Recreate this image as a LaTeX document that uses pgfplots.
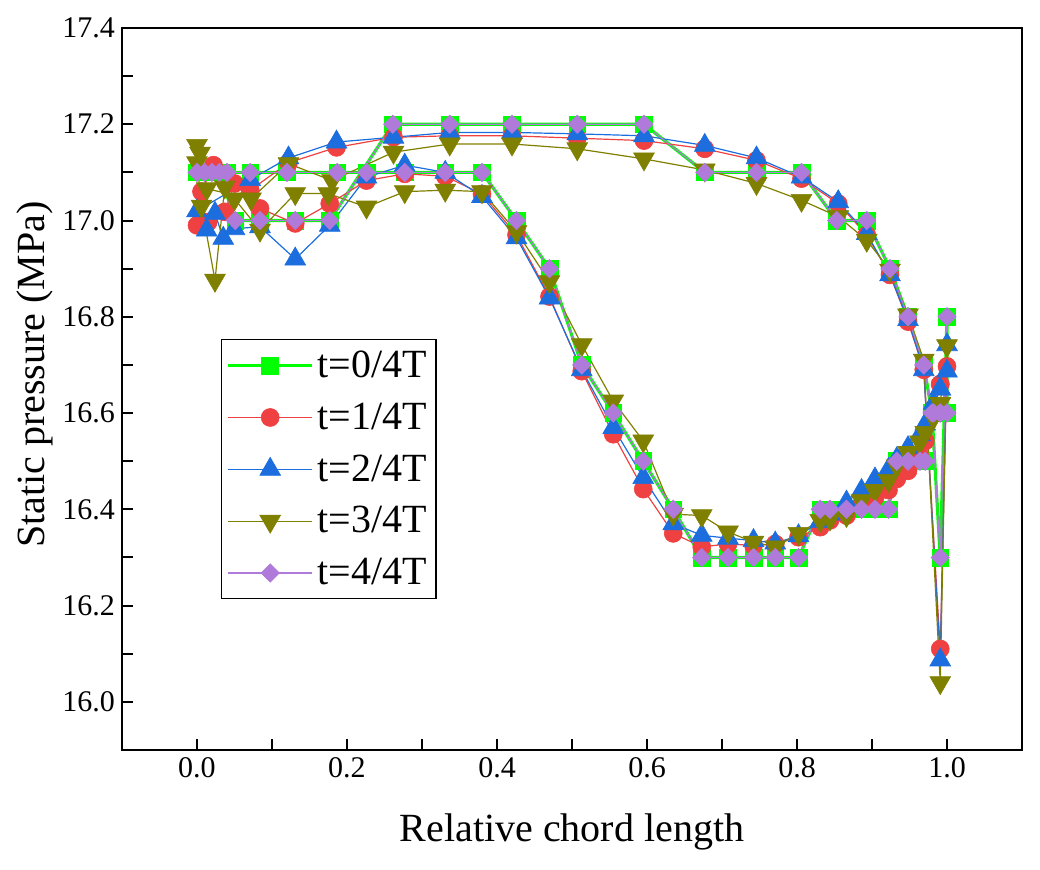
\documentclass[border=0pt]{standalone}
\usepackage{pgfplots}
\pgfplotsset{compat=1.18}
\usepackage{fontspec}
\setmainfont{Liberation Serif}
\definecolor{cgreen}{RGB}{0,255,0}
\definecolor{cred}{RGB}{239,65,65}
\definecolor{cblue}{RGB}{28,110,222}
\definecolor{colive}{RGB}{128,128,0}
\definecolor{cpurple}{RGB}{175,122,218}
\begin{document}
\begin{tikzpicture}
\path[use as bounding box] (-61pt,-60pt) rectangle (459pt,375pt);
\begin{axis}[
  scale only axis, width=450pt, height=361pt,
  xmin=-0.1, xmax=1.1, ymin=15.9, ymax=17.4,
  axis line style={line width=1.3pt},
  tick align=inside, tick pos=left,
  major tick length=5.5pt, minor tick length=5.5pt,
  tick style={line width=1pt, black},
  xtick={0,0.2,0.4,0.6,0.8,1.0},
  minor xtick={0.1,0.3,0.5,0.7,0.9},
  ytick={16.0,16.2,16.4,16.6,16.8,17.0,17.2,17.4},
  minor ytick={16.1,16.3,16.5,16.7,16.9,17.1,17.3},
  /pgf/number format/assume math mode=true,
  xticklabel style={font=\fontsize{15}{18}\selectfont, /pgf/number format/.cd, fixed, fixed zerofill, precision=1},
  yticklabel style={font=\fontsize{15}{18}\selectfont, /pgf/number format/.cd, fixed, fixed zerofill, precision=1},
  xlabel={Relative chord length},
  ylabel={Static pressure (MPa)},
  xlabel style={font=\fontsize{20}{24}\selectfont, at={(axis description cs:0.5,-0.1136)}, anchor=center},
  ylabel style={font=\fontsize{20}{24}\selectfont, at={(axis description cs:-0.097,0.52)}, anchor=center},
  legend style={at={(0.11,0.569)}, anchor=north west, draw=black, line width=0.6pt,
    font=\fontsize{20}{24}\selectfont, inner xsep=2.5pt, inner ysep=4.5pt, row sep=9.2pt,
    nodes={inner sep=1pt, inner xsep=2pt}},
  legend cell align=left,
  legend image code/.code={\draw[mark repeat=2,mark phase=2] plot coordinates {(0pt,0pt) (21pt,0pt) (42pt,0pt)};},
]
% t=0/4T
\addplot[cgreen, line width=1.6pt, mark=square*, mark size=4.2pt, mark options={solid, fill=cgreen, draw=cgreen, line width=0.3pt}] coordinates {
(0.991,16.6) (0.982,16.6) (0.971,16.5) (0.964,16.5) (0.948,16.5) (0.933,16.5) (0.922,16.4) (0.904,16.4) (0.886,16.4) (0.866,16.4) (0.844,16.4) (0.831,16.4) (0.802,16.3) (0.771,16.3) (0.742,16.3) (0.708,16.3) (0.673,16.3) (0.635,16.4) (0.595,16.5) (0.555,16.6) (0.513,16.7) (0.470,16.9) (0.426,17.0) (0.380,17.1) (0.331,17.1) (0.277,17.1) (0.226,17.1) (0.187,17.1) (0.120,17.1) (0.071,17.1)
(0.040,17.1) (0.0,17.1) (0.010,17.1) (0.020,17.1) (0.030,17.1)
(0.051,17.0) (0.084,17.0) (0.131,17.0) (0.177,17.0) (0.261,17.2) (0.337,17.2) (0.420,17.2) (0.507,17.2) (0.596,17.2) (0.677,17.1) (0.746,17.1) (0.806,17.1) (0.853,17.0) (0.893,17.0) (0.924,16.9) (0.948,16.8) (0.969,16.7) (0.980,16.6) (0.991,16.3) (1.0,16.8) (1.0,16.6) (0.991,16.6)
};
\addlegendentry{t=0/4T}
% t=1/4T
\addplot[color=cred, line width=0.6pt, mark=*, mark size=4.5pt, mark options={solid, fill=cred, draw=cred, line width=0.3pt}] coordinates {
(0.991,16.66) (0.982,16.60) (0.971,16.542) (0.964,16.51) (0.948,16.48) (0.933,16.463) (0.922,16.44) (0.904,16.425) (0.886,16.41) (0.866,16.387) (0.844,16.377) (0.831,16.363) (0.802,16.342) (0.771,16.328) (0.742,16.325) (0.708,16.328) (0.673,16.322) (0.635,16.35) (0.595,16.442) (0.555,16.556) (0.513,16.687) (0.470,16.842) (0.426,16.97) (0.380,17.055) (0.331,17.092) (0.277,17.097) (0.226,17.083) (0.177,17.035) (0.131,16.994) (0.084,17.025) (0.050,17.077)
(0.037,17.018) (0.015,16.997) (0.0,16.99) (0.006,17.06) (0.022,17.115)
(0.071,17.063) (0.122,17.12) (0.186,17.152) (0.262,17.173) (0.337,17.176) (0.420,17.176) (0.507,17.171) (0.596,17.166) (0.677,17.149) (0.746,17.125) (0.806,17.087) (0.855,17.035) (0.893,16.97) (0.924,16.887) (0.948,16.79) (0.969,16.69) (0.991,16.11) (1.0,16.697) (0.991,16.66)
};
\addlegendentry{t=1/4T}
% t=2/4T
\addplot[color=cblue, line width=0.6pt, mark=triangle*, mark size=6pt, mark options={solid, fill=cblue, draw=cblue, line width=0.3pt}] coordinates {
(0.991,16.65) (0.982,16.62) (0.971,16.577) (0.964,16.555) (0.948,16.528) (0.933,16.505) (0.922,16.483) (0.904,16.463) (0.886,16.439) (0.866,16.415) (0.844,16.39) (0.831,16.375) (0.802,16.345) (0.771,16.33) (0.742,16.335) (0.708,16.34) (0.673,16.346) (0.635,16.37) (0.595,16.466) (0.555,16.57) (0.513,16.69) (0.470,16.839) (0.426,16.964) (0.380,17.05) (0.331,17.1) (0.277,17.115) (0.226,17.09) (0.177,16.99) (0.131,16.92) (0.084,16.987) (0.050,16.983)
(0.035,16.963) (0.024,17.015) (0.013,16.98) (0.0,17.02)
(0.071,17.085) (0.122,17.13) (0.186,17.163) (0.262,17.173) (0.337,17.183) (0.420,17.183) (0.507,17.18) (0.596,17.176) (0.677,17.156) (0.746,17.13) (0.806,17.09) (0.855,17.039) (0.893,16.973) (0.924,16.887) (0.948,16.794) (0.969,16.69) (0.991,16.087) (1.0,16.742) (1.0,16.687) (0.991,16.65)
};
\addlegendentry{t=2/4T}
% t=3/4T
\addplot[color=colive, line width=0.6pt, mark=triangle*, mark size=6pt, mark options={solid, rotate=180, fill=colive, draw=colive, line width=0.3pt}] coordinates {
(0.991,16.62) (0.982,16.59) (0.971,16.56) (0.964,16.54) (0.948,16.518) (0.933,16.49) (0.922,16.46) (0.904,16.439) (0.886,16.418) (0.866,16.387) (0.844,16.38) (0.831,16.377) (0.802,16.35) (0.771,16.322) (0.742,16.332) (0.708,16.353) (0.673,16.387) (0.635,16.39) (0.595,16.542) (0.555,16.625) (0.513,16.742) (0.470,16.873) (0.426,16.977) (0.380,17.06) (0.331,17.063) (0.277,17.06) (0.226,17.028) (0.175,17.056) (0.131,17.056) (0.084,16.98)
(0.050,17.045) (0.037,17.07) (0.024,16.876) (0.006,17.03) (0.0,17.12) (0.004,17.14) (0.0,17.156) (0.013,17.066)
(0.072,17.045) (0.122,17.118) (0.180,17.083) (0.262,17.142) (0.337,17.159) (0.420,17.159) (0.507,17.149) (0.596,17.128) (0.677,17.105) (0.746,17.077) (0.806,17.042) (0.855,17.008) (0.893,16.959) (0.924,16.897) (0.948,16.804) (0.969,16.71) (0.991,16.04) (1.0,16.74) (0.991,16.62)
};
\addlegendentry{t=3/4T}
% t=4/4T
\addplot[color=cpurple, line width=0.6pt, mark=square*, mark size=3.25pt, mark options={solid, rotate=45, fill=cpurple, draw=cpurple, line width=0.3pt}] coordinates {
(0.991,16.6) (0.982,16.6) (0.971,16.5) (0.964,16.5) (0.948,16.5) (0.933,16.5) (0.922,16.4) (0.904,16.4) (0.886,16.4) (0.866,16.4) (0.844,16.4) (0.831,16.4) (0.802,16.3) (0.771,16.3) (0.742,16.3) (0.708,16.3) (0.673,16.3) (0.635,16.4) (0.595,16.5) (0.555,16.6) (0.513,16.7) (0.470,16.9) (0.426,17.0) (0.380,17.1) (0.331,17.1) (0.277,17.1) (0.226,17.1) (0.187,17.1) (0.120,17.1) (0.071,17.1)
(0.040,17.1) (0.0,17.1) (0.010,17.1) (0.020,17.1) (0.030,17.1)
(0.051,17.0) (0.084,17.0) (0.131,17.0) (0.177,17.0) (0.261,17.2) (0.337,17.2) (0.420,17.2) (0.507,17.2) (0.596,17.2) (0.677,17.1) (0.746,17.1) (0.806,17.1) (0.853,17.0) (0.893,17.0) (0.924,16.9) (0.948,16.8) (0.969,16.7) (0.980,16.6) (0.991,16.3) (1.0,16.8) (1.0,16.6) (0.991,16.6)
};
\addlegendentry{t=4/4T}
\end{axis}
\end{tikzpicture}
\end{document}
